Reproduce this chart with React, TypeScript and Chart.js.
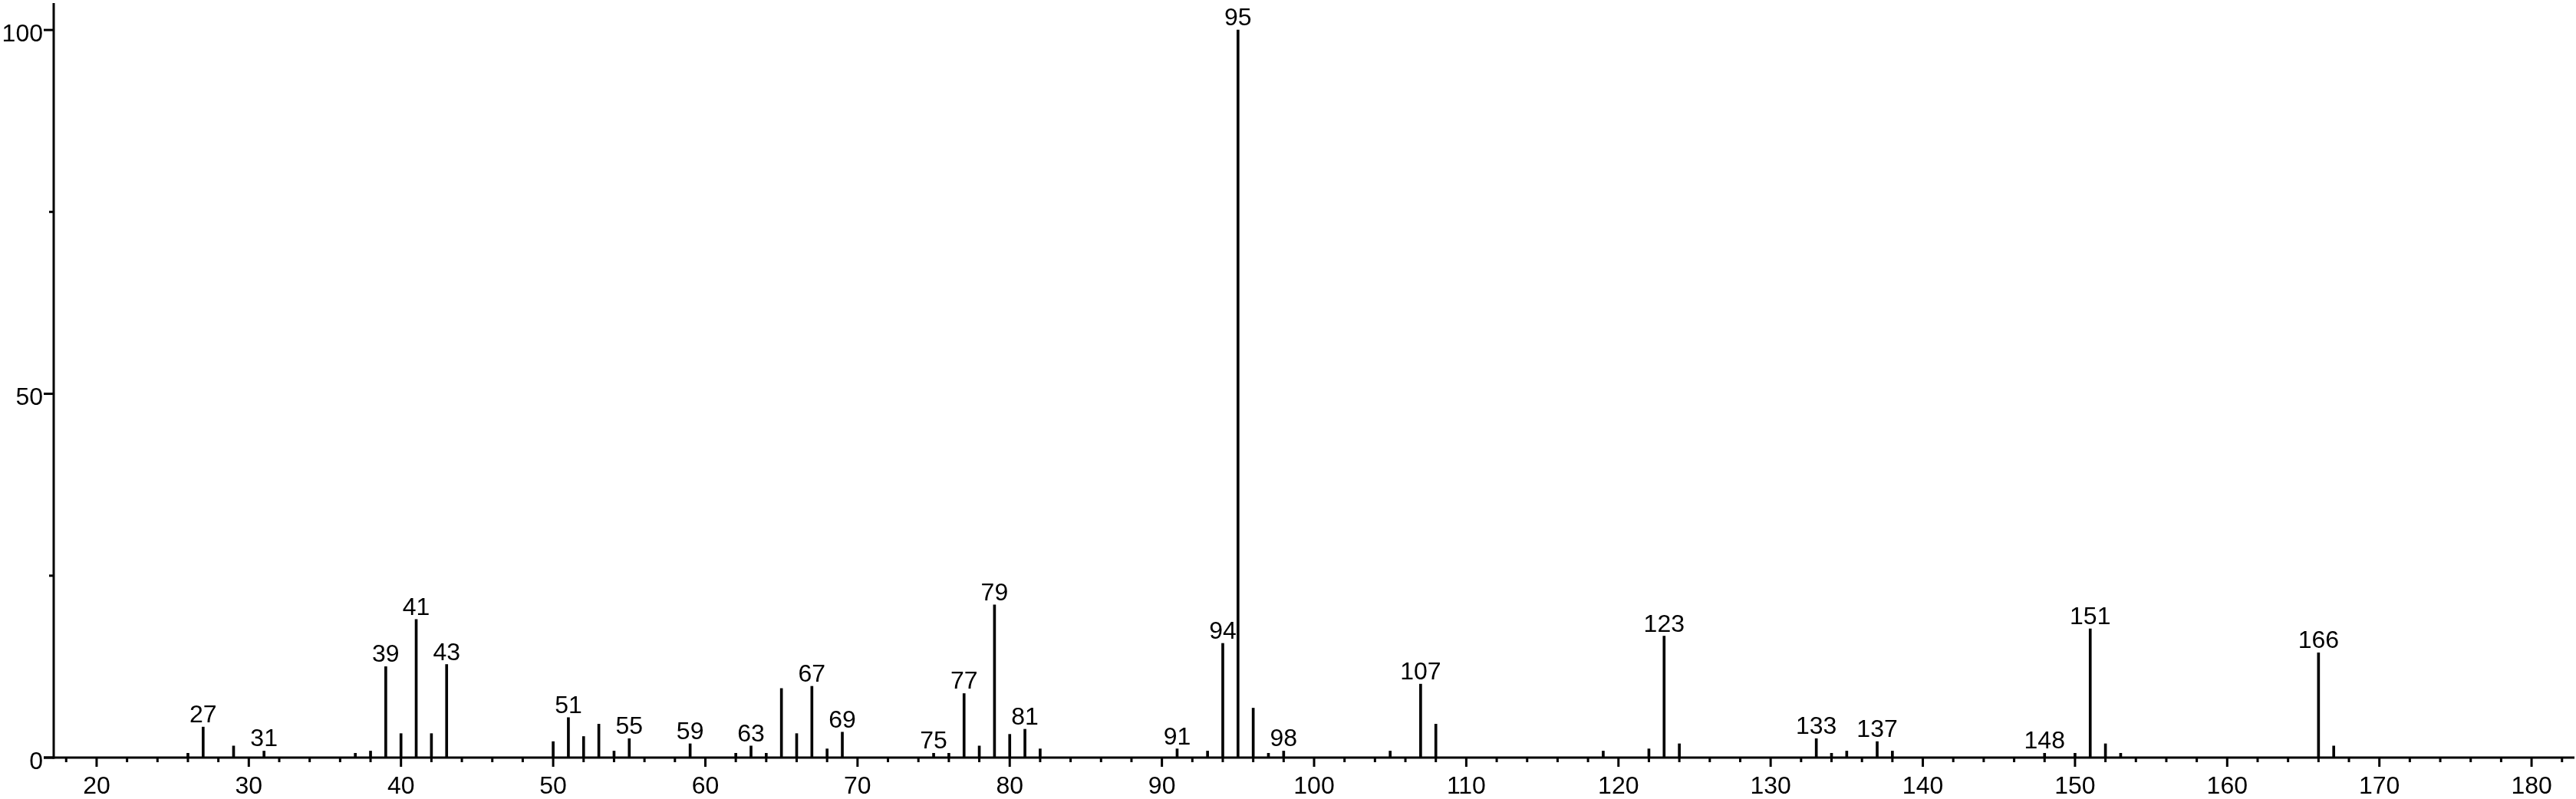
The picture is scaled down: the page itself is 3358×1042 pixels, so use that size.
import React, { useEffect, useRef } from "react";
import { Chart, registerables } from "chart.js";

Chart.register(...registerables);

// m/z values of the peaks
const mzValues = [
  26, 27, 29, 31, 37, 38, 39, 40, 41, 42, 43, 50, 51, 52, 53, 54, 55, 59, 62, 63,
  64, 65, 66, 67, 68, 69, 75, 76, 77, 78, 79, 80, 81, 82, 91, 93, 94, 95, 96, 97,
  98, 105, 107, 108, 119, 122, 123, 124, 133, 134, 135, 137, 138, 148, 150, 151,
  152, 153, 166, 167,
];

// relative intensities (%)
const intensities = [
  0.6, 4.2, 1.6, 0.9, 0.6, 0.9, 12.5, 3.3, 19.0, 3.3, 12.8, 2.2, 5.5, 2.9, 4.6, 0.9, 2.6, 1.9, 0.6, 1.6,
  0.6, 9.5, 3.3, 9.8, 1.2, 3.5, 0.6, 0.6, 8.8, 1.6, 21.0, 3.2, 3.9, 1.2, 1.2, 0.9, 15.7, 100, 6.8, 0.6,
  0.9, 0.9, 10.1, 4.6, 0.9, 1.2, 16.7, 1.9, 2.6, 0.6, 0.9, 2.2, 0.9, 0.6, 0.6, 17.7,
  1.9, 0.6, 14.4, 1.6,
];

// peaks that carry an m/z annotation
const labeledMz = [
  27, 31, 39, 41, 43, 51, 55, 59, 63, 67, 69, 75, 77, 79, 81, 91, 94, 95, 98, 107,
  123, 133, 137, 148, 151, 166,
];

// axis tick values
const xMinorTicks = [
  18, 20, 22, 24, 26, 28, 30, 32, 34, 36, 38, 40, 42, 44, 46, 48, 50, 52, 54, 56, 58,
  60, 62, 64, 66, 68, 70, 72, 74, 76, 78, 80, 82, 84, 86, 88, 90, 92, 94, 96, 98, 100,
  102, 104, 106, 108, 110, 112, 114, 116, 118, 120, 122, 124, 126, 128, 130, 132, 134,
  136, 138, 140, 142, 144, 146, 148, 150, 152, 154, 156, 158, 160, 162, 164, 166, 168,
  170, 172, 174, 176, 178, 180, 182,
];
const xTickLabels = [20, 30, 40, 50, 60, 70, 80, 90, 100, 110, 120, 130, 140, 150, 160, 170, 180];
const yMinorTicks = [0, 25, 50, 75, 100];
const yTickLabels = [0, 50, 100];

const X_MIN = 17.18;
const X_MAX = 182.92;
const Y_MIN = 0;
const Y_MAX = 103.7;

const FONT_FAMILY = '"Liberation Sans", Arial, Helvetica, sans-serif';
const FONT_SIZE = 32;

const axesPlugin = {
  id: "msAxes",
  afterDatasetsDraw(chart: any) {
    const { ctx, chartArea, scales } = chart;
    const xs = scales.x;
    const ys = scales.y;
    const y0 = ys.getPixelForValue(0);
    const left = chartArea.left;
    ctx.save();
    ctx.strokeStyle = "#000";
    ctx.lineWidth = 3;
    ctx.lineCap = "butt";
    // y axis
    ctx.beginPath();
    ctx.moveTo(left, chartArea.top);
    ctx.lineTo(left, y0 + 1.5);
    ctx.stroke();
    // x axis
    ctx.beginPath();
    ctx.moveTo(left - 13, y0);
    ctx.lineTo(chart.width - 2, y0);
    ctx.stroke();
    // y ticks
    yMinorTicks.forEach((v) => {
      const py = ys.getPixelForValue(v);
      const len = yTickLabels.includes(v) ? 13 : 6;
      ctx.beginPath();
      ctx.moveTo(left - len, py);
      ctx.lineTo(left, py);
      ctx.stroke();
    });
    // x ticks
    xMinorTicks.forEach((v) => {
      const px = xs.getPixelForValue(v);
      const len = xTickLabels.includes(v) ? 12 : 6;
      ctx.beginPath();
      ctx.moveTo(px, y0);
      ctx.lineTo(px, y0 + len);
      ctx.stroke();
    });
    // tick labels
    ctx.fillStyle = "#000";
    ctx.font = `${FONT_SIZE}px ${FONT_FAMILY}`;
    ctx.textBaseline = "alphabetic";
    ctx.textAlign = "right";
    yTickLabels.forEach((v) => {
      const py = ys.getPixelForValue(v);
      ctx.fillText(String(v), left - 14, py + 14.5);
    });
    ctx.textAlign = "center";
    xTickLabels.forEach((v) => {
      const px = xs.getPixelForValue(v);
      ctx.fillText(String(v), px, y0 + 47);
    });
    ctx.restore();
  },
};

const peakLabelPlugin = {
  id: "peakLabels",
  afterDatasetsDraw(chart: any) {
    const { ctx } = chart;
    const meta = chart.getDatasetMeta(0);
    ctx.save();
    ctx.fillStyle = "#000";
    ctx.font = `${FONT_SIZE}px ${FONT_FAMILY}`;
    ctx.textAlign = "center";
    ctx.textBaseline = "alphabetic";
    meta.data.forEach((el: any, i: number) => {
      const mz = mzValues[i];
      if (labeledMz.includes(mz)) {
        ctx.fillText(String(mz), el.x, el.y - 6);
      }
    });
    ctx.restore();
  },
};

export default function App() {
  const canvasRef = useRef<HTMLCanvasElement | null>(null);

  useEffect(() => {
    const canvas = canvasRef.current;
    if (!canvas) return;
    const data = mzValues.map((x, i) => ({ x, y: intensities[i] }));
    const chart = new Chart(canvas, {
      type: "bar",
      data: {
        datasets: [
          {
            data: data as any,
            backgroundColor: "#000",
            borderWidth: 0,
            barThickness: 3,
          } as any,
        ],
      },
      options: {
        responsive: false,
        animation: false,
        devicePixelRatio: 1,
        layout: { padding: { top: 4, left: 0, right: 0, bottom: 0 } },
        plugins: {
          legend: { display: false },
          tooltip: { enabled: false },
        },
        scales: {
          x: {
            type: "linear",
            min: X_MIN,
            max: X_MAX,
            offset: false,
            grid: { display: false, drawTicks: false, offset: false },
            border: { display: false },
            ticks: { display: false },
            afterFit: (s: any) => {
              s.height = 54;
              s.paddingLeft = 0;
              s.paddingRight = 0;
            },
          } as any,
          y: {
            type: "linear",
            min: Y_MIN,
            max: Y_MAX,
            grid: { display: false, drawTicks: false },
            border: { display: false },
            ticks: { display: false },
            afterFit: (s: any) => {
              s.width = 70;
              s.paddingTop = 0;
              s.paddingBottom = 0;
            },
          } as any,
        },
      },
      plugins: [axesPlugin, peakLabelPlugin],
    });
    return () => chart.destroy();
  }, []);

  return (
    <div
      style={{
        position: "absolute",
        left: 0,
        top: 0,
        width: 3358,
        height: 1042,
        background: "#fff",
      }}
    >
      <canvas
        ref={canvasRef}
        width={3358}
        height={1042}
        style={{ display: "block", width: 3358, height: 1042 }}
      />
    </div>
  );
}
